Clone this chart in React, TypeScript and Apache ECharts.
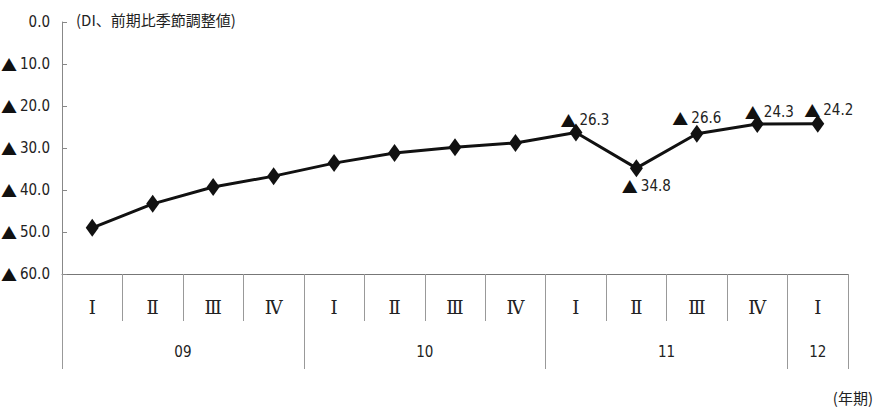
import React, { useEffect, useRef } from "react";
import * as echarts from "echarts";

const quarters = ["Ⅰ", "Ⅱ", "Ⅲ", "Ⅳ", "Ⅰ", "Ⅱ", "Ⅲ", "Ⅳ", "Ⅰ", "Ⅱ", "Ⅲ", "Ⅳ", "Ⅰ"];
const years = ["09", "10", "11", "12"];
const yearLabelPos = [2, 6, 10, 12.5];
const yearBounds = [0, 4, 8, 12, 13];
const diValues = [-49.0, -43.3, -39.3, -36.7, -33.6, -31.2, -29.8, -28.8, -26.3, -34.8, -26.6, -24.3, -24.2];
const labelled = [8, 9, 10, 11, 12];
const labelOffsets: Record<number, number[]> = {
  8: [9, -12],
  9: [10, 18],
  10: [0, -16],
  11: [12, -12],
  12: [11, -14],
};

const FONT = "'DejaVu Sans Condensed', 'Liberation Sans Narrow', 'Liberation Sans', sans-serif";
const fmtRich = (v: number) => (v === 0 ? "0.0" : "{t|▲}" + Math.abs(v).toFixed(1));
const richTri = {
  t: { fontSize: 16, color: "#111", fontFamily: "'Noto Sans CJK JP', sans-serif", padding: [0, 3, 0, 0] },
};

export default function App() {
  const ref = useRef<HTMLDivElement>(null);
  useEffect(() => {
    if (!ref.current) return;
    const chart = echarts.init(ref.current, null, { renderer: "svg" });
    chart.setOption({
      animation: false,
      backgroundColor: "#ffffff",
      grid: { left: 62, right: 29, top: 22, bottom: 138, containLabel: false, outerBoundsMode: "none" },
      xAxis: [
        {
          type: "category",
          data: quarters,
          boundaryGap: true,
          axisLine: { show: true, onZero: false, lineStyle: { color: "#777", width: 1 } },
          axisTick: { show: true, interval: 0, length: 47, lineStyle: { color: "#999" } },
          axisLabel: {
            interval: 0,
            margin: 24,
            fontSize: 18,
            color: "#222",
            fontFamily: "'DejaVu Serif', 'Liberation Serif', serif",
          },
        },
        {
          type: "value",
          position: "bottom",
          min: 0,
          max: 13,
          axisLine: { show: false, onZero: false },
          splitLine: { show: false },
          axisTick: { show: true, customValues: yearBounds, length: 95, lineStyle: { color: "#999" } },
          axisLabel: {
            customValues: yearLabelPos,
            margin: 70,
            fontSize: 15,
            color: "#222",
            fontFamily: FONT,
            formatter: (v: number) => {
              const i = yearLabelPos.indexOf(v);
              return i >= 0 ? years[i] : "";
            },
          },
        },
      ],
      yAxis: {
        type: "value",
        min: -60,
        max: 0,
        interval: 10,
        splitLine: { show: false },
        axisLine: { show: true, lineStyle: { color: "#888" } },
        axisTick: { show: true, inside: true, length: 5, lineStyle: { color: "#888" } },
        axisLabel: { formatter: fmtRich, rich: richTri, fontSize: 15, color: "#222", fontFamily: FONT, margin: 12 },
      },
      graphic: [
        {
          type: "text",
          left: 76,
          top: 12,
          style: { text: "(DI、前期比季節調整値)", fontSize: 15, fill: "#222", fontFamily: "'Noto Sans CJK JP', sans-serif" },
        },
        {
          type: "text",
          right: 4,
          top: 390,
          style: { text: "(年期)", fontSize: 15, fill: "#222", fontFamily: "'Noto Sans CJK JP', sans-serif" },
        },
      ],
      series: [
        {
          type: "line",
          xAxisIndex: 0,
          yAxisIndex: 0,
          symbol: "diamond",
          symbolSize: [13, 18],
          lineStyle: { color: "#111", width: 3 },
          itemStyle: { color: "#111" },
          data: diValues.map((v, i) =>
            labelled.includes(i)
              ? {
                  value: v,
                  label: {
                    show: true,
                    position: "inside",
                    offset: labelOffsets[i],
                    formatter: () => fmtRich(v),
                    rich: richTri,
                    fontSize: 15,
                    color: "#222",
                    fontFamily: FONT,
                  },
                }
              : v
          ),
        },
      ],
    });
    return () => chart.dispose();
  }, []);
  return <div ref={ref} style={{ position: "fixed", left: 0, top: 0, width: 877, height: 412 }} />;
}
